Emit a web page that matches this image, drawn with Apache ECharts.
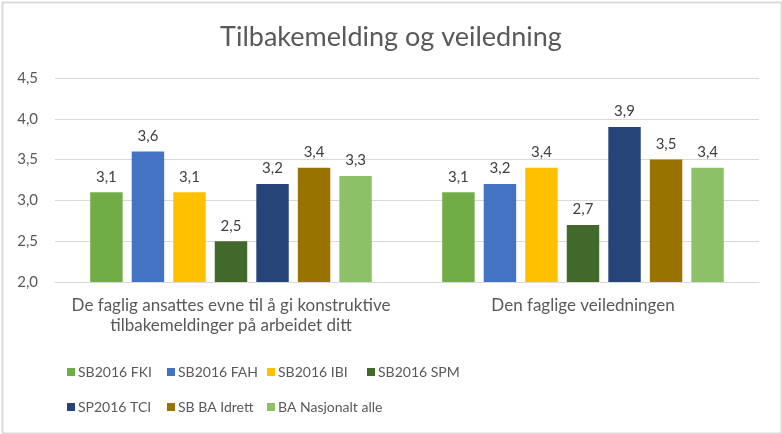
<!DOCTYPE html>
<html>
<head>
<meta charset="utf-8">
<script src="https://cdn.jsdelivr.net/npm/echarts@6/dist/echarts.min.js"></script>
<style>
html,body{margin:0;padding:0;background:#fff;}
#c{width:782px;height:434px;}
</style>
</head>
<body>
<div id="c"></div>
<script>
const categories = ["De faglig ansattes evne til å gi konstruktive\ntilbakemeldinger på arbeidet ditt", "Den faglige veiledningen"];
const seriesNames = ["SB2016 FKI", "SB2016 FAH", "SB2016 IBI", "SB2016 SPM", "SP2016 TCI", "SB BA Idrett", "BA Nasjonalt alle"];
const fki = [3.1, 3.1];
const fah = [3.6, 3.2];
const ibi = [3.1, 3.4];
const spm = [2.5, 2.7];
const tci = [3.2, 3.9];
const idrett = [3.4, 3.5];
const nasjonalt = [3.3, 3.4];
const yTicks = [2.0, 2.5, 3.0, 3.5, 4.0, 4.5];

const values = [fki, fah, ibi, spm, tci, idrett, nasjonalt];
const colors = ["#70AD47", "#4472C4", "#FFC000", "#43682B", "#264478", "#997300", "#8CC168"];
const font = "Lato, 'Open Sans', sans-serif";
const fmt = v => v.toFixed(1).replace('.', ',');

const legends = seriesNames.map((n, i) => ({
  data: [n],
  left: 67 + (i % 4) * 100,
  top: 365 + Math.floor(i / 4) * 35,
  padding: 0,
  itemWidth: 8, itemHeight: 8, itemGap: 0,
  icon: 'rect',
  textStyle: {fontFamily: font, fontSize: 14, color: '#595959', padding: [0, 0, 0, -2]}
}));

const chart = echarts.init(document.getElementById('c'));
chart.setOption({
  animation: false,
  backgroundColor: '#fff',
  graphic: [{
    type: 'rect', left: 0, top: 0,
    shape: {x: 1, y: 1, width: 779, height: 431},
    style: {fill: 'none', stroke: '#D9D9D9', lineWidth: 2}
  }],
  title: {
    text: 'Tilbakemelding og veiledning',
    left: 'center', top: 19,
    textStyle: {fontFamily: font, fontSize: 27, fontWeight: 'normal', color: '#595959'}
  },
  grid: {left: 55, right: 23, top: 78, bottom: 152},
  legend: legends,
  xAxis: {
    type: 'category',
    data: categories,
    axisLine: {lineStyle: {color: '#D9D9D9'}},
    axisTick: {show: false},
    axisLabel: {fontFamily: font, fontSize: 17, color: '#595959', lineHeight: 20, margin: 14, interval: 0}
  },
  yAxis: {
    type: 'value',
    min: yTicks[0], max: yTicks[yTicks.length - 1], interval: 0.5,
    axisLine: {show: false},
    axisTick: {show: false},
    splitLine: {lineStyle: {color: '#D9D9D9'}},
    axisLabel: {fontFamily: font, fontSize: 15, color: '#595959', margin: 17, formatter: v => fmt(v)}
  },
  series: seriesNames.map((n, i) => ({
    name: n,
    type: 'bar',
    data: values[i],
    itemStyle: {color: colors[i]},
    barGap: '28%',
    barCategoryGap: '20%',
    label: {show: true, position: 'top', distance: 8, fontFamily: font, fontSize: 15, color: '#404040', formatter: p => fmt(p.value)}
  }))
});
</script>
</body>
</html>
